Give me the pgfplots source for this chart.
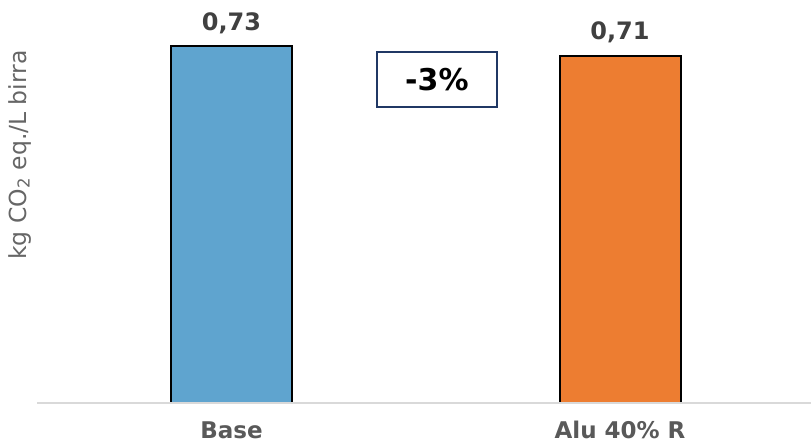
\documentclass[border=0pt]{standalone}
\usepackage{pgfplots}
\pgfplotsset{compat=1.18}
\usepackage{fontspec}
\setmainfont{DejaVu Sans}

\definecolor{barblue}{HTML}{5FA4CF}
\definecolor{barorange}{HTML}{ED7D31}
\definecolor{valgray}{HTML}{404040}
\definecolor{tickgray}{HTML}{595959}
\definecolor{labelgray}{HTML}{666666}
\definecolor{axisgray}{HTML}{D9D9D9}
\definecolor{boxblue}{HTML}{203864}

\begin{document}
\begin{tikzpicture}
\useasboundingbox (0,0) rectangle (811bp,444bp);
\begin{axis}[
  at={(37.25bp,41bp)}, anchor=south west,
  scale only axis, width=777bp, height=391.2bp,
  xmin=-0.5, xmax=1.5, ymin=0, ymax=0.8,
  axis x line*=bottom, axis y line=none,
  x axis line style={draw=axisgray, line width=2bp, -},
  axis on top,
  xtick={0,1}, xticklabels={Base, Alu 40\% R},
  major tick length=0pt,
  xticklabel style={anchor=base, yshift=-35.5bp, inner sep=0pt,
    font=\fontsize{23bp}{27bp}\selectfont\bfseries, text=tickgray},
  clip=false,
  every node near coord/.append style={anchor=base, yshift=16bp, inner sep=0pt,
    font=\fontsize{24bp}{28bp}\selectfont\bfseries, text=valgray},
  nodes near coords={\pgfmathprintnumber[fixed, fixed zerofill, precision=2,
    use comma, assume math mode=true]{\pgfplotspointmeta}},
]
% Base scenario
\addplot[ybar, bar width=121bp, bar shift=0pt, fill=barblue, draw=black,
  line width=2bp] coordinates {(0,0.73)};
% 40% recycled aluminium
\addplot[ybar, bar width=121bp, bar shift=0pt, fill=barorange, draw=black,
  line width=2bp] coordinates {(1,0.71)};

% relative change between the two scenarios
\node[draw=boxblue, line width=2bp, fill=white, minimum width=120.5bp,
  minimum height=55.5bp, inner sep=0pt,
  font=\fontsize{30bp}{36bp}\selectfont\bfseries]
  at (axis cs:0.5286,0.6618) {-3\%};
\end{axis}

% y axis title
\node[rotate=90, anchor=base, inner sep=0pt,
  font=\fontsize{23.5bp}{28bp}\selectfont, text=labelgray]
  at (26bp,289bp) {kg CO\textsubscript{2} eq./L birra};
\end{tikzpicture}
\end{document}
